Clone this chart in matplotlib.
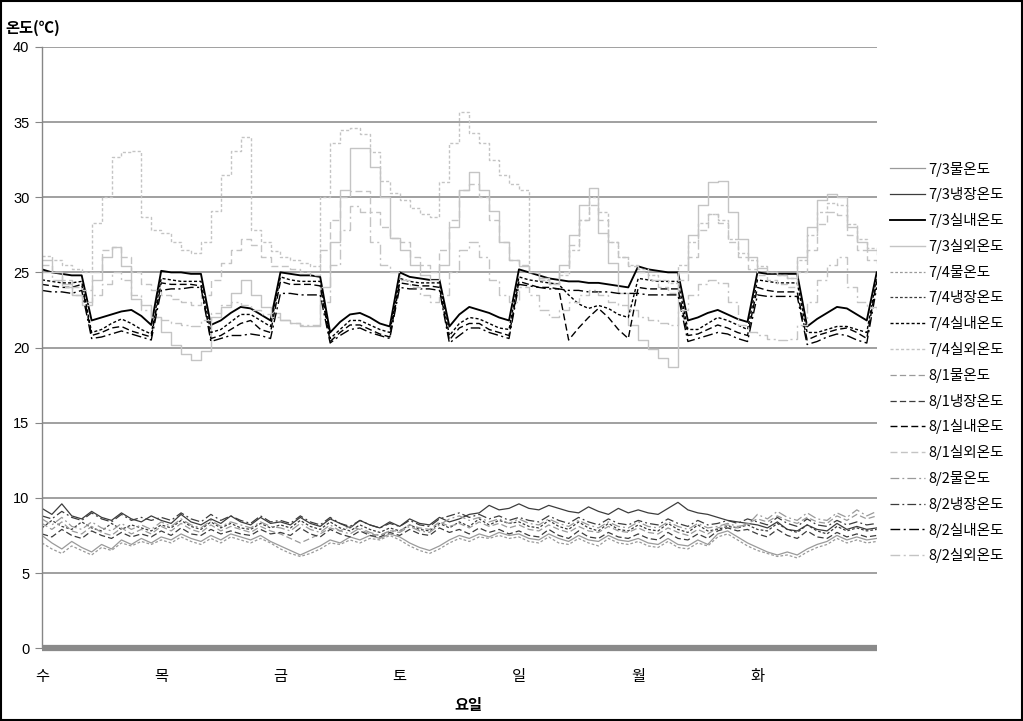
import matplotlib
matplotlib.use("Agg")
import matplotlib.pyplot as plt
from matplotlib.patches import Rectangle

plt.rcParams['font.family'] = ['Liberation Sans', 'Noto Sans CJK KR', 'DejaVu Sans']

# ---------------- data ----------------
day_labels = ['수', '목', '금', '토', '일', '월', '화']
hours = list(range(0, 169, 2))          # sample times (hours since Wed 00:00)

# 물온도 (water)
water_0703 = [7.5, 7.0, 6.6, 7.1, 6.7, 6.4, 6.9, 6.6, 7.2, 6.9, 7.3, 7.0,
              7.4, 7.2, 7.6, 7.3, 7.1, 7.5, 7.2, 7.6, 7.4, 7.2, 7.5, 7.1,
              6.8, 6.5, 6.2, 6.5, 6.8, 7.2, 7.0, 7.4, 7.2, 7.5, 7.3, 7.6,
              7.4, 7.0, 6.7, 6.5, 6.8, 7.2, 7.5, 7.3, 7.6, 7.4, 7.7, 7.5,
              7.6, 7.3, 7.2, 7.6, 7.3, 7.1, 7.5, 7.2, 7.1, 7.5, 7.2, 7.1,
              7.3, 7.0, 6.9, 7.3, 6.9, 6.8, 7.2, 6.9, 7.6, 7.8, 7.4, 7.0,
              6.7, 6.4, 6.2, 6.4, 6.2, 6.6, 6.9, 7.1, 7.5, 7.2, 7.4, 7.2, 7.3]
water_0704 = [7.0, 6.6, 6.3, 6.8, 6.5, 6.2, 6.7, 6.5, 7.0, 6.8, 7.1, 6.9,
              7.2, 7.0, 7.4, 7.1, 6.9, 7.3, 7.0, 7.4, 7.2, 7.0, 7.3, 7.0,
              6.6, 6.3, 6.1, 6.3, 6.6, 7.0, 6.9, 7.2, 7.0, 7.3, 7.2, 7.5,
              7.2, 6.8, 6.5, 6.3, 6.6, 7.0, 7.3, 7.1, 7.4, 7.3, 7.5, 7.3,
              7.4, 7.1, 7.0, 7.4, 7.0, 6.9, 7.3, 7.0, 6.8, 7.3, 7.0, 6.9,
              7.1, 6.8, 6.7, 7.1, 6.7, 6.6, 7.0, 6.8, 7.4, 7.6, 7.2, 6.8,
              6.5, 6.3, 6.1, 6.2, 6.0, 6.4, 6.7, 6.9, 7.3, 7.0, 7.2, 7.0, 7.1]
water_0801 = [8.3, 7.9, 8.4, 7.8, 7.6, 8.1, 7.7, 7.5, 8.0, 7.6, 7.9, 7.6,
              8.1, 7.8, 8.3, 7.9, 7.7, 8.2, 7.8, 8.1, 7.9, 7.7, 8.1, 7.8,
              7.6, 7.3, 7.0, 7.3, 7.6, 8.0, 7.8, 8.1, 7.9, 7.6, 7.5, 7.8,
              7.8, 8.2, 8.0, 7.9, 8.4, 8.1, 8.3, 8.0, 8.4, 8.1, 8.3, 8.0,
              8.2, 7.9, 7.8, 8.2, 7.9, 7.7, 8.1, 7.8, 7.7, 8.1, 7.8, 7.7,
              8.0, 7.7, 7.6, 8.0, 7.7, 7.5, 7.9, 7.6, 8.0, 8.2, 8.0, 8.3,
              8.6, 8.4, 8.8, 8.5, 8.3, 8.7, 8.4, 8.3, 8.8, 8.5, 8.9, 8.6, 8.8]
water_0802 = [8.6, 8.2, 8.7, 8.1, 7.9, 8.4, 8.0, 7.8, 8.3, 7.9, 8.2, 7.9,
              8.4, 8.1, 8.6, 8.2, 8.0, 8.5, 8.1, 8.4, 8.2, 8.0, 8.4, 8.1,
              8.0, 7.8, 8.3, 7.9, 7.7, 8.2, 7.8, 7.6, 8.0, 7.7, 7.5, 7.8,
              7.7, 8.1, 7.8, 7.7, 8.2, 8.6, 8.8, 8.5, 8.7, 8.4, 8.6, 8.3,
              8.6, 8.3, 8.2, 8.6, 8.3, 8.1, 8.5, 8.2, 8.0, 8.4, 8.1, 8.0,
              8.4, 8.1, 8.0, 8.4, 8.1, 7.9, 8.3, 8.0, 8.1, 8.3, 8.1, 8.2,
              8.9, 8.6, 9.1, 8.7, 8.5, 9.0, 8.6, 8.5, 9.0, 8.7, 9.2, 8.8, 9.1]

# 냉장온도 (refrigerator)
fridge_0703 = [9.3, 8.9, 9.6, 8.8, 8.6, 9.1, 8.7, 8.5, 9.0, 8.6, 8.4, 8.8,
               8.5, 8.3, 8.9, 8.4, 8.2, 8.6, 8.3, 8.8, 8.4, 8.2, 8.7, 8.3,
               8.4, 8.2, 8.7, 8.3, 8.1, 8.6, 8.3, 8.0, 8.5, 8.2, 8.0, 8.4,
               8.1, 8.6, 8.3, 8.2, 8.7, 8.4, 8.6, 8.9, 9.0, 9.5, 9.2, 9.3,
               9.6, 9.3, 9.2, 9.5, 9.3, 9.1, 9.0, 9.4, 9.1, 8.9, 9.3, 9.0,
               9.2, 9.0, 8.9, 9.3, 9.7, 9.2, 9.0, 8.9, 8.7, 8.5, 8.4, 8.3,
               8.2, 8.0, 8.4, 7.9, 7.8, 8.2, 7.9, 7.8, 8.3, 7.9, 8.1, 7.9, 8.0]
fridge_0704 = [8.0, 8.5, 8.1, 7.9, 8.4, 8.0, 7.8, 8.3, 7.9, 8.2, 8.0, 7.8,
               8.2, 8.0, 8.5, 8.1, 7.9, 8.4, 8.0, 8.3, 8.0, 7.9, 8.3, 8.0,
               8.2, 8.0, 8.5, 8.1, 7.9, 8.4, 8.0, 7.8, 8.2, 7.9, 7.7, 8.0,
               7.8, 8.2, 7.9, 7.8, 8.3, 8.0, 8.4, 8.1, 8.6, 8.2, 8.5, 8.3,
               8.4, 8.1, 8.0, 8.5, 8.1, 7.9, 8.4, 8.0, 7.8, 8.3, 7.9, 7.8,
               8.2, 7.9, 7.8, 8.3, 7.9, 7.7, 8.2, 7.8, 7.9, 8.1, 8.0, 8.2,
               7.9, 7.8, 8.3, 7.9, 7.7, 8.2, 7.8, 7.6, 8.1, 7.8, 8.0, 7.8, 7.9]
fridge_0801 = [7.6, 7.4, 7.9, 7.5, 7.3, 7.8, 7.5, 7.3, 7.7, 7.4, 7.6, 7.4,
               7.8, 7.5, 8.0, 7.6, 7.5, 7.9, 7.6, 7.8, 7.6, 7.5, 7.9, 7.6,
               7.7, 7.5, 8.0, 7.6, 7.4, 7.9, 7.6, 7.4, 7.8, 7.5, 7.4, 7.7,
               7.5, 7.9, 7.6, 7.5, 8.0, 7.7, 7.9, 7.6, 8.0, 7.7, 7.9, 7.6,
               7.8, 7.5, 7.4, 7.9, 7.5, 7.3, 7.8, 7.4, 7.3, 7.7, 7.4, 7.3,
               7.6, 7.3, 7.2, 7.7, 7.3, 7.2, 7.6, 7.3, 7.8, 8.0, 7.8, 7.9,
               7.6, 7.4, 7.9, 7.5, 7.3, 7.8, 7.4, 7.3, 7.7, 7.4, 7.6, 7.4, 7.5]
fridge_0802 = [8.8, 8.6, 9.1, 8.7, 8.5, 9.0, 8.6, 8.4, 8.9, 8.5, 8.7, 8.5,
               8.7, 8.5, 9.0, 8.6, 8.4, 8.9, 8.5, 8.8, 8.5, 8.3, 8.8, 8.4,
               8.5, 8.3, 8.8, 8.4, 8.2, 8.7, 8.3, 8.1, 8.5, 8.2, 8.0, 8.3,
               8.1, 8.5, 8.2, 8.1, 8.6, 8.8, 9.0, 8.7, 8.9, 8.6, 8.8, 8.5,
               8.7, 8.5, 8.4, 8.8, 8.5, 8.3, 8.7, 8.4, 8.2, 8.6, 8.3, 8.2,
               8.5, 8.3, 8.2, 8.6, 8.3, 8.1, 8.5, 8.2, 8.3, 8.5, 8.3, 8.6,
               8.4, 8.2, 8.7, 8.3, 8.1, 8.6, 8.2, 8.1, 8.5, 8.2, 8.4, 8.2, 8.3]

# 실내온도 (indoor)
indoor_0703 = [25.2, 25.0, 24.9, 24.8, 24.8, 21.8, 22.0, 22.2, 22.4, 22.5, 22.1, 21.5,
               25.1, 25.0, 25.0, 24.9, 24.9, 21.5, 21.8, 22.3, 22.7, 22.6, 22.2, 21.8,
               25.0, 24.9, 24.8, 24.8, 24.7, 21.0, 21.7, 22.2, 22.3, 22.0, 21.6, 21.4,
               25.0, 24.7, 24.6, 24.5, 24.5, 21.4, 22.2, 22.7, 22.5, 22.3, 22.0, 21.8,
               25.2, 25.0, 24.8, 24.6, 24.5, 24.4, 24.4, 24.3, 24.3, 24.2, 24.1, 24.0,
               25.4, 25.2, 25.1, 25.0, 25.0, 21.8, 22.0, 22.3, 22.5, 22.2, 21.9, 21.7,
               25.0, 24.9, 24.9, 24.9, 24.9, 21.4, 21.9, 22.3, 22.7, 22.6, 22.2, 21.8, 25.0]
indoor_0704 = [24.5, 24.4, 24.3, 24.3, 24.4, 21.0, 21.2, 21.6, 21.9, 21.6, 21.2, 20.9,
               24.6, 24.5, 24.4, 24.4, 24.4, 21.0, 21.2, 21.7, 22.2, 22.2, 21.8, 21.4,
               24.7, 24.5, 24.4, 24.4, 24.4, 20.6, 21.2, 21.8, 21.8, 21.5, 21.2, 21.0,
               24.6, 24.4, 24.3, 24.3, 24.3, 20.8, 21.6, 22.0, 21.9, 21.6, 21.3, 21.2,
               24.7, 24.5, 24.4, 24.3, 24.2, 23.5, 22.9, 22.6, 22.8, 22.6, 22.2, 22.0,
               24.6, 24.5, 24.4, 24.4, 24.4, 21.2, 21.2, 21.6, 22.0, 21.8, 21.5, 21.2,
               24.5, 24.4, 24.3, 24.3, 24.3, 21.0, 21.0, 21.2, 21.4, 21.4, 21.2, 21.0, 24.7]
indoor_0801 = [24.2, 24.1, 24.0, 24.0, 24.2, 20.8, 21.0, 21.3, 21.4, 21.1, 20.9, 20.7,
               24.3, 24.2, 24.2, 24.2, 24.1, 20.6, 20.8, 21.2, 21.6, 21.8, 21.2, 21.0,
               24.4, 24.2, 24.2, 24.2, 24.1, 20.4, 21.0, 21.5, 21.5, 21.2, 20.9, 20.7,
               24.3, 24.2, 24.1, 24.1, 24.0, 20.5, 21.3, 21.6, 21.6, 21.2, 21.0, 20.8,
               24.4, 24.2, 24.0, 24.0, 23.9, 20.5, 21.3, 22.0, 22.6, 22.0, 21.2, 20.6,
               24.0, 23.9, 23.9, 23.9, 23.9, 20.8, 20.9, 21.2, 21.5, 21.3, 21.0, 20.8,
               24.0, 23.8, 23.7, 23.7, 23.7, 20.5, 20.8, 21.0, 21.2, 21.3, 21.0, 20.6, 24.4]
indoor_0802 = [23.8, 23.7, 23.7, 23.6, 23.8, 20.6, 20.7, 20.9, 21.1, 20.9, 20.7, 20.5,
               23.8, 23.9, 23.9, 24.0, 24.0, 20.4, 20.6, 20.8, 20.8, 20.9, 20.8, 20.6,
               23.6, 23.6, 23.5, 23.5, 23.5, 20.3, 20.8, 21.2, 21.3, 21.0, 20.8, 20.6,
               24.0, 23.9, 23.9, 23.9, 23.8, 20.3, 20.8, 21.3, 21.3, 21.0, 20.8, 20.6,
               24.2, 24.1, 24.0, 23.9, 23.9, 23.8, 23.8, 23.7, 23.7, 23.7, 23.6, 23.6,
               23.6, 23.5, 23.5, 23.5, 23.5, 20.4, 20.6, 20.8, 21.0, 20.9, 20.6, 20.4,
               23.5, 23.4, 23.4, 23.4, 23.4, 20.2, 20.4, 20.7, 20.9, 20.8, 20.5, 20.3, 24.0]

# 실외온도 (outdoor, hourly logger -> stepped)
outdoor_0703 = [25.8, 25.0, 24.2, 23.5, 22.8, 24.5, 26.0, 26.7, 25.4, 23.2, 22.8, 22.0,
                21.0, 20.2, 19.6, 19.2, 19.8, 22.0, 22.7, 23.6, 24.5, 23.5, 22.7, 22.3,
                21.8, 21.6, 21.4, 21.4, 24.0, 27.0, 30.5, 33.3, 33.3, 32.0, 30.0, 27.3,
                26.5, 25.5, 24.8, 24.5, 25.5, 28.0, 30.5, 31.7, 30.5, 29.1, 27.0, 25.8,
                25.4, 25.0, 24.6, 24.3, 25.5, 27.5, 29.5, 30.6, 27.6, 25.6, 23.6, 21.5,
                20.5, 19.9, 19.3, 18.7, 25.0, 27.5, 29.5, 31.0, 31.1, 29.0, 27.2, 26.0,
                25.3, 25.0, 24.8, 24.6, 26.0, 28.0, 29.8, 30.2, 30.0, 28.0, 27.0, 26.5, 26.2]
outdoor_0704 = [26.1, 25.8, 25.5, 25.2, 25.0, 28.3, 30.0, 32.7, 33.0, 33.1, 28.7, 27.8,
                27.6, 27.0, 26.5, 26.3, 27.0, 29.1, 31.5, 33.1, 34.0, 27.8, 27.0, 26.4,
                26.0, 25.8, 25.6, 25.4, 30.0, 33.6, 34.5, 34.6, 34.2, 33.0, 31.1, 30.3,
                29.8, 29.3, 28.9, 28.7, 31.0, 33.6, 35.7, 34.3, 33.6, 32.5, 31.5, 30.9,
                30.5, 25.0, 24.5, 24.2, 24.8, 26.5, 28.5, 30.0, 29.0, 27.0, 26.0, 25.5,
                25.2, 24.8, 24.5, 24.3, 25.5, 27.0, 28.3, 28.9, 28.5, 27.2, 26.3, 25.8,
                25.4, 25.0, 24.8, 24.6, 25.8, 27.5, 29.0, 29.6, 29.5, 28.2, 27.2, 26.6, 26.4]
outdoor_0801 = [25.5, 25.0, 24.5, 24.0, 23.8, 25.0, 26.5, 26.7, 26.0, 25.0, 24.2, 23.8,
                23.5, 23.2, 23.0, 22.8, 23.5, 24.5, 25.6, 26.5, 27.2, 26.8, 26.0, 25.4,
                25.4, 25.2, 25.0, 24.8, 26.5, 28.5, 30.0, 30.4, 30.4, 29.0, 28.0, 27.3,
                27.0, 26.0, 25.5, 25.0, 26.5, 28.5, 30.5, 30.9, 30.0, 28.5, 27.0, 25.8,
                25.5, 25.0, 24.5, 24.2, 25.0, 26.8, 28.5, 29.5, 28.5, 27.0, 26.0, 25.4,
                25.0, 24.5, 24.0, 23.6, 24.5, 26.0, 27.8, 28.9, 28.3, 27.0, 26.0, 25.2,
                24.8, 24.5, 24.2, 24.0, 25.0, 26.5, 28.2, 29.0, 28.8, 27.5, 26.5, 25.8, 25.5]
outdoor_0802 = [25.0, 24.5, 24.0, 23.5, 23.0, 23.5, 24.2, 25.0, 24.5, 23.5, 22.5, 22.0,
                21.8, 21.6, 21.5, 21.4, 21.8, 22.3, 22.8, 23.0, 22.8, 22.5, 22.2, 22.0,
                21.8, 21.6, 21.5, 21.5, 23.0, 25.5, 27.8, 29.4, 29.0, 27.0, 25.5, 25.0,
                24.5, 24.0, 23.5, 23.0, 23.5, 25.0, 26.5, 27.0, 26.0, 24.5, 23.5, 23.0,
                24.0, 23.5, 22.5, 22.0, 22.5, 23.0, 23.5, 23.8, 23.5, 23.0, 22.8, 22.5,
                22.0, 21.8, 21.6, 21.5, 22.5, 23.5, 24.2, 24.5, 24.3, 23.0, 21.5, 21.0,
                20.8, 20.6, 20.5, 20.6, 21.5, 23.0, 24.5, 25.5, 26.0, 24.0, 23.0, 22.7, 22.5]

series_labels = ['7/3물온도', '7/3냉장온도', '7/3실내온도', '7/3실외온도',
                 '7/4물온도', '7/4냉장온도', '7/4실내온도', '7/4실외온도',
                 '8/1물온도', '8/1냉장온도', '8/1실내온도', '8/1실외온도',
                 '8/2물온도', '8/2냉장온도', '8/2실내온도', '8/2실외온도']
series_values = [water_0703, fridge_0703, indoor_0703, outdoor_0703,
                 water_0704, fridge_0704, indoor_0704, outdoor_0704,
                 water_0801, fridge_0801, indoor_0801, outdoor_0801,
                 water_0802, fridge_0802, indoor_0802, outdoor_0802]

# ---------------- styles ----------------
kind_color = {'물': '#9a9a9a', '냉': '#3c3c3c', '실내': '#000000', '실외': '#c4c4c4'}
week_dash = {'7/3': None, '7/4': (2.2, 1.6), '8/1': (5, 2.5), '8/2': (7, 2.5, 1.5, 2.5)}

def style_for(label):
    week = label[:3]
    if '물' in label:
        c, lw = kind_color['물'], 0.9
    elif '냉장' in label:
        c, lw = kind_color['냉'], 0.9
    elif '실내' in label:
        c, lw = kind_color['실내'], 1.35 if week == '7/3' else 1.0
    else:
        c, lw = kind_color['실외'], 1.0
    return c, lw, week_dash[week]

fig = plt.figure(figsize=(10.23, 7.21), dpi=100)
ax = fig.add_axes([0.041, 0.101, 0.816, 0.834])

x_days = [h / 24 for h in hours]
handles = []
for label, vals in zip(series_labels, series_values):
    c, lw, dash = style_for(label)
    kw = dict(color=c, lw=lw, label=label)
    if '실외' in label:
        kw['drawstyle'] = 'steps-post'
    line, = ax.plot(x_days, vals, **kw)
    if dash is not None:
        line.set_dashes(dash)
    handles.append(line)

ax.set_xlim(0, 7)
ax.set_ylim(0, 40)
ax.set_yticks(range(0, 41, 5))
ax.set_xticks(range(7))
ax.set_xticklabels(day_labels, fontsize=11, family=['Noto Sans CJK KR'])
ax.tick_params(axis='x', length=0, pad=14)
ax.tick_params(axis='y', length=5, color='#868686', labelsize=10.5, pad=4)
ax.yaxis.grid(True, color='#868686', lw=1.1)
ax.set_axisbelow(True)

for s in ['top', 'right']:
    ax.spines[s].set_visible(False)
ax.spines['left'].set_color('#868686')
ax.spines['left'].set_linewidth(1.0)
ax.spines['bottom'].set_color('#8a8a8a')
ax.spines['bottom'].set_linewidth(4.5)
ax.spines['bottom'].set_capstyle('butt')

fig.text(0.005, 0.961, '온도(℃)', fontsize=11, fontweight='bold',
         family=['Noto Sans CJK KR'], va='center', ha='left')
fig.text(0.458, 0.022, '요일', fontsize=11, fontweight='bold',
         family=['Noto Sans CJK KR'], va='center', ha='center')

leg = fig.legend(handles=handles, loc='upper left', bbox_to_anchor=(0.870, 0.776),
                 frameon=False, handlelength=2.4, handletextpad=0.2,
                 labelspacing=0.74, borderpad=0, borderaxespad=0,
                 prop={'family': ['Noto Sans CJK KR'], 'size': 10.5})

fig.add_artist(Rectangle((0.001, 0.001), 0.998, 0.997, transform=fig.transFigure,
                         fill=False, edgecolor='black', lw=1.5))

fig.savefig('out.png', dpi=100)
